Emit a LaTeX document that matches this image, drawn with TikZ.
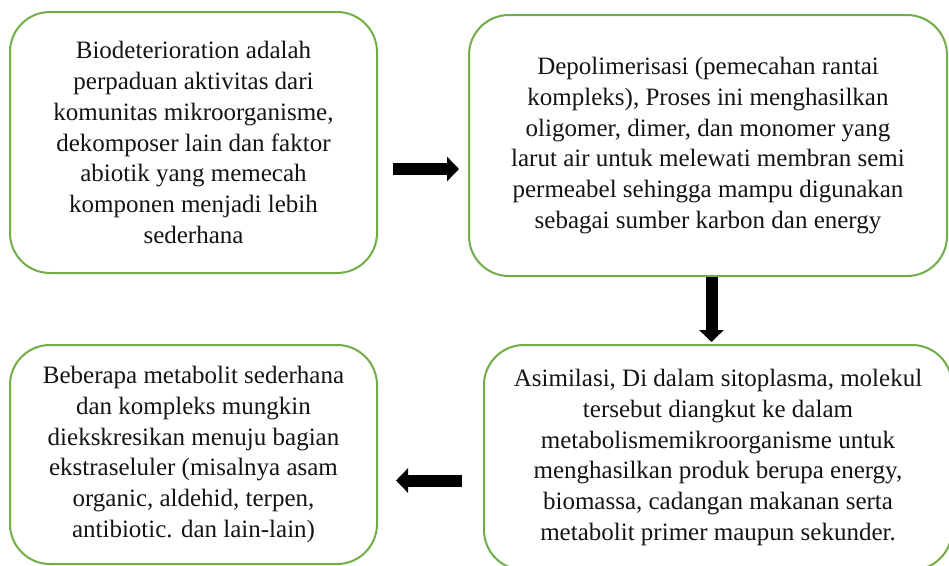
\documentclass[tikz,border=0pt]{standalone}
\usepackage{fontspec}
\setmainfont{Liberation Serif}
\usepackage{tikz}
\usetikzlibrary{arrows.meta}
\definecolor{leafgreen}{RGB}{112,173,71}
\definecolor{inkblack}{RGB}{20,20,20}

\tikzset{
  stepbox/.style={draw=leafgreen, line width=2pt, rounded corners=40pt,
                  align=center, text=inkblack, inner sep=0pt,
                  font=\fontsize{25}{30.7}\selectfont},
  blockarrow/.style={line width=12pt, black,
                     -{Triangle[length=12pt, width=24pt]}}
}

\begin{document}
\begin{tikzpicture}[x=1pt, y=-1pt]
  \useasboundingbox (0,0) rectangle (949,565);

  % Boxes
  \node[stepbox, minimum width=367pt, minimum height=261pt] (bio) at (193.5,142.5)
    {Biodeterioration adalah\\ perpaduan aktivitas dari\\ komunitas mikroorganisme,\\
     dekomposer lain dan faktor\\ abiotik yang memecah\\ komponen menjadi lebih\\ sederhana};
  \node[stepbox, minimum width=478pt, minimum height=261pt] (depol) at (708,145.5)
    {Depolimerisasi (pemecahan rantai\\ kompleks), Proses ini menghasilkan\\
     oligomer, dimer, dan monomer yang\\ larut air untuk melewati membran semi\\
     permeabel sehingga mampu digunakan\\ sebagai sumber karbon dan energy};
  \node[stepbox, minimum width=468pt, minimum height=225pt] (asim) at (718,457.5)
    {Asimilasi, Di dalam sitoplasma, molekul\\ tersebut diangkut ke dalam\\
     metabolismemikroorganisme untuk\\ menghasilkan produk berupa energy,\\
     biomassa, cadangan makanan serta\\ metabolit primer maupun sekunder.};
  \node[stepbox, minimum width=367pt, minimum height=219pt] (ekskresi) at (193.5,454.5)
    {Beberapa metabolit sederhana\\ dan kompleks mungkin\\ diekskresikan menuju bagian\\
     ekstraseluler (misalnya asam\\ organic, aldehid, terpen,\\ antibiotic. dan lain-lain)};

  % Arrows between the steps
  \draw[blockarrow, shorten <=15pt, shorten >=9pt]
    ([yshift=-26.5pt]bio.east) -- ([yshift=-26.5pt]bio.east -| depol.west);
  \draw[blockarrow, shorten >=2pt]
    ([xshift=3.5pt]depol.south) -- ([xshift=3.5pt]depol.south |- asim.north);
  \draw[blockarrow, shorten <=21pt, shorten >=18pt]
    ([yshift=-23pt]asim.west) -- ([yshift=-23pt]asim.west -| ekskresi.east);
\end{tikzpicture}
\end{document}
